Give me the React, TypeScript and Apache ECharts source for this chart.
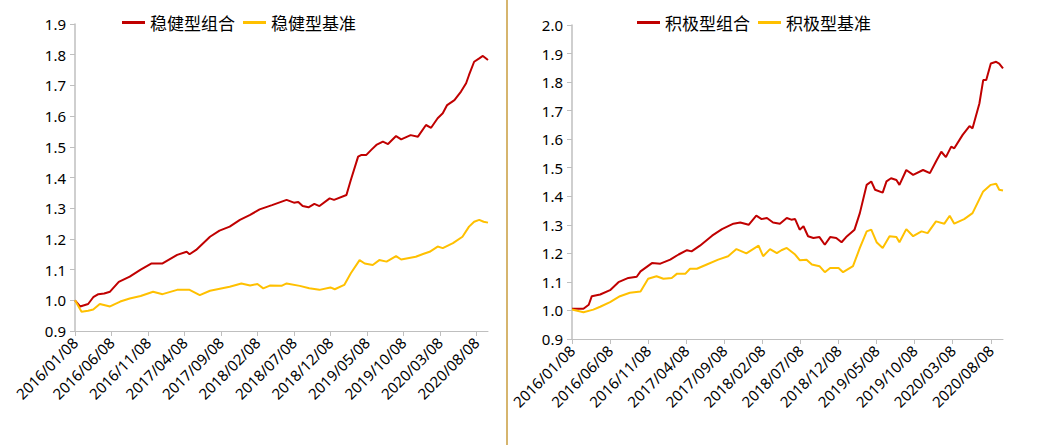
import React, { useEffect, useRef } from "react";
import * as echarts from "echarts";

// x values: months elapsed since 2016/01/08
const tickMonths = [0, 5, 10, 15, 20, 25, 30, 35, 40, 45, 50, 55];
const tickLabels = [
  "2016/01/08", "2016/06/08", "2016/11/08", "2017/04/08", "2017/09/08", "2018/02/08",
  "2018/07/08", "2018/12/08", "2019/05/08", "2019/10/08", "2020/03/08", "2020/08/08",
];
const lastMonth = 56.6;

const steadyPortT = [0, 0.7, 1.8, 2.5, 3.2, 4.0, 4.8, 6.0, 7.5, 9.0, 10.5, 12.0, 14.0, 15.3, 15.7, 16.6, 18.5, 19.8, 21.2, 22.6, 24.0, 25.3, 27.0, 29.0, 30.0, 30.6, 31.2, 32.0, 32.8, 33.5, 34.9, 35.5, 37.2, 37.8, 38.8, 39.2, 39.9, 40.6, 41.3, 42.2, 42.9, 44.0, 44.7, 46.0, 47.0, 48.1, 48.8, 49.7, 50.4, 51.0, 52.0, 52.9, 53.6, 54.0, 54.7, 55.4, 55.9, 56.6];
const steadyPortV = [1.0, 0.98, 0.988, 1.01, 1.02, 1.022, 1.028, 1.06, 1.077, 1.10, 1.12, 1.12, 1.148, 1.158, 1.15, 1.164, 1.207, 1.227, 1.24, 1.262, 1.278, 1.296, 1.31, 1.327, 1.318, 1.32, 1.307, 1.303, 1.314, 1.307, 1.332, 1.327, 1.343, 1.392, 1.468, 1.473, 1.473, 1.49, 1.506, 1.517, 1.509, 1.535, 1.524, 1.538, 1.533, 1.571, 1.562, 1.593, 1.609, 1.636, 1.652, 1.68, 1.707, 1.734, 1.777, 1.788, 1.796, 1.783];

const steadyBenchT = [0, 0.9, 1.8, 2.5, 3.4, 4.8, 6.2, 7.5, 9.0, 10.7, 12.0, 14.0, 15.7, 17.1, 18.5, 21.2, 22.8, 24.0, 25.0, 25.8, 26.7, 28.3, 29.0, 30.8, 32.1, 33.5, 35.0, 35.6, 36.9, 37.8, 39.0, 39.7, 40.8, 41.7, 42.7, 44.0, 44.7, 46.7, 47.7, 48.6, 49.7, 50.4, 51.8, 53.1, 54.0, 54.7, 55.4, 56.0, 56.6];
const steadyBenchV = [1.0, 0.963, 0.966, 0.97, 0.988, 0.98, 0.996, 1.006, 1.014, 1.028, 1.02, 1.034, 1.034, 1.017, 1.031, 1.044, 1.055, 1.048, 1.053, 1.039, 1.048, 1.047, 1.055, 1.047, 1.039, 1.034, 1.042, 1.036, 1.05, 1.088, 1.131, 1.12, 1.115, 1.131, 1.126, 1.144, 1.133, 1.142, 1.151, 1.158, 1.175, 1.17, 1.186, 1.207, 1.24, 1.256, 1.262, 1.256, 1.253];

const activePortT = [0, 1.5, 2.2, 2.6, 3.7, 5.0, 6.1, 7.4, 8.5, 9.0, 10.5, 11.6, 12.9, 14.0, 15.1, 15.7, 16.8, 18.4, 19.7, 21.2, 22.1, 23.2, 24.2, 24.9, 25.6, 26.4, 27.3, 28.2, 28.8, 29.3, 29.9, 30.4, 31.0, 31.7, 32.5, 33.2, 33.9, 34.7, 35.4, 36.0, 37.1, 37.8, 38.7, 39.3, 39.8, 40.8, 41.3, 41.9, 42.6, 43.0, 43.9, 44.8, 46.1, 47.0, 47.8, 48.5, 49.1, 49.8, 50.2, 51.3, 52.2, 52.6, 53.5, 54.0, 54.4, 55.0, 55.7, 56.1, 56.6];
const activePortV = [1.006, 1.006, 1.02, 1.05, 1.056, 1.071, 1.099, 1.114, 1.118, 1.137, 1.166, 1.164, 1.178, 1.196, 1.211, 1.207, 1.227, 1.262, 1.285, 1.304, 1.308, 1.30, 1.332, 1.32, 1.324, 1.308, 1.304, 1.324, 1.318, 1.32, 1.283, 1.295, 1.26, 1.254, 1.257, 1.23, 1.257, 1.254, 1.239, 1.257, 1.283, 1.341, 1.44, 1.452, 1.423, 1.413, 1.452, 1.463, 1.457, 1.44, 1.492, 1.475, 1.492, 1.481, 1.522, 1.556, 1.537, 1.574, 1.568, 1.615, 1.646, 1.638, 1.725, 1.807, 1.807, 1.865, 1.871, 1.865, 1.848];

const activeBenchT = [0, 1.5, 2.8, 3.7, 5.0, 6.3, 7.6, 9.0, 10.0, 11.1, 12.0, 13.1, 13.8, 14.9, 15.5, 16.4, 17.7, 19.2, 20.5, 21.6, 22.9, 24.5, 25.1, 26.0, 26.9, 27.5, 28.2, 29.3, 29.9, 30.8, 31.5, 32.5, 33.2, 33.9, 35.0, 35.6, 36.9, 37.8, 38.7, 39.3, 40.0, 40.8, 41.7, 42.6, 43.0, 43.9, 44.8, 45.9, 46.7, 47.8, 48.9, 49.6, 50.2, 51.5, 52.6, 54.0, 55.0, 55.7, 56.1, 56.6];
const activeBenchV = [1.003, 0.994, 1.003, 1.013, 1.029, 1.05, 1.062, 1.066, 1.111, 1.12, 1.111, 1.114, 1.129, 1.129, 1.146, 1.146, 1.161, 1.178, 1.19, 1.215, 1.20, 1.227, 1.19, 1.215, 1.201, 1.211, 1.219, 1.196, 1.176, 1.178, 1.161, 1.155, 1.134, 1.149, 1.149, 1.134, 1.155, 1.219, 1.277, 1.283, 1.239, 1.219, 1.26, 1.257, 1.239, 1.285, 1.26, 1.277, 1.271, 1.312, 1.304, 1.332, 1.304, 1.32, 1.341, 1.417, 1.44, 1.444, 1.423, 1.42];

const RED = "#c00000";
const YELLOW = "#ffc000";
const AXIS = "#bfbfbf";
const FONT = "'Noto Sans', 'Noto Sans CJK SC', sans-serif";

const zip = (t: number[], v: number[]) => t.map((x, i) => [x, v[i]]);

function xAxis(gridIndex: number) {
  return {
    type: "value",
    gridIndex,
    min: 0,
    max: lastMonth,
    interval: 5,
    splitLine: { show: false },
    axisLine: { show: true, lineStyle: { color: AXIS, width: 1 } },
    axisTick: { show: true, length: 5, lineStyle: { color: AXIS }, customValues: tickMonths },
    axisLabel: {
      customValues: tickMonths,
      rotate: 45,
      margin: 9,
      color: "#000",
      fontSize: 15,
      fontFamily: FONT,
      formatter: (v: number) => {
        const i = tickMonths.indexOf(Math.round(v));
        return i >= 0 && Math.abs(v - tickMonths[i]) < 1e-6 ? tickLabels[i] : "";
      },
    },
  };
}

function yAxis(gridIndex: number, max: number) {
  return {
    type: "value",
    gridIndex,
    min: 0.9,
    max,
    interval: 0.1,
    splitLine: { show: false },
    axisLine: { show: true, lineStyle: { color: AXIS, width: 1.5 } },
    axisTick: { show: true, length: 5, lineStyle: { color: AXIS } },
    axisLabel: {
      margin: 9,
      color: "#000",
      fontSize: 15,
      fontFamily: FONT,
      formatter: (v: number) => v.toFixed(1),
    },
  };
}

function line(name: string, color: string, idx: number, data: number[][]) {
  return {
    name,
    type: "line",
    xAxisIndex: idx,
    yAxisIndex: idx,
    data,
    showSymbol: false,
    symbol: "none",
    lineStyle: { color, width: 2 },
    itemStyle: { color },
  };
}

function legend(left: number, names: string[]) {
  return {
    left,
    top: 14,
    padding: 0,
    orient: "horizontal",
    itemWidth: 23,
    itemHeight: 3,
    itemGap: 8,
    icon: "rect",
    data: names,
    textStyle: { fontSize: 17, color: "#000", fontFamily: "'Noto Sans CJK SC', sans-serif" },
  };
}

export default function App() {
  const ref = useRef<HTMLDivElement>(null);
  useEffect(() => {
    if (!ref.current) return;
    const chart = echarts.init(ref.current, null, { renderer: "svg" });
    chart.setOption({
      animation: false,
      backgroundColor: "#fff",
      grid: [
        { left: 75, top: 24, width: 413, height: 307 },
        { left: 572, top: 25, width: 431, height: 314 },
      ],
      xAxis: [xAxis(0), xAxis(1)],
      yAxis: [yAxis(0, 1.9), yAxis(1, 2.0)],
      legend: [
        legend(122, ["稳健型组合", "稳健型基准"]),
        legend(637, ["积极型组合", "积极型基准"]),
      ],
      series: [
        line("稳健型组合", RED, 0, zip(steadyPortT, steadyPortV)),
        line("稳健型基准", YELLOW, 0, zip(steadyBenchT, steadyBenchV)),
        line("积极型组合", RED, 1, zip(activePortT, activePortV)),
        line("积极型基准", YELLOW, 1, zip(activeBenchT, activeBenchV)),
      ],
      graphic: [
        {
          type: "line",
          shape: { x1: 507, y1: 0, x2: 507, y2: 445 },
          style: { stroke: "#d6b56e", lineWidth: 2 },
        },
      ],
    });
    return () => chart.dispose();
  }, []);
  return (
    <div
      ref={ref}
      style={{ position: "fixed", left: 0, top: 0, width: 1054, height: 445 }}
    />
  );
}
